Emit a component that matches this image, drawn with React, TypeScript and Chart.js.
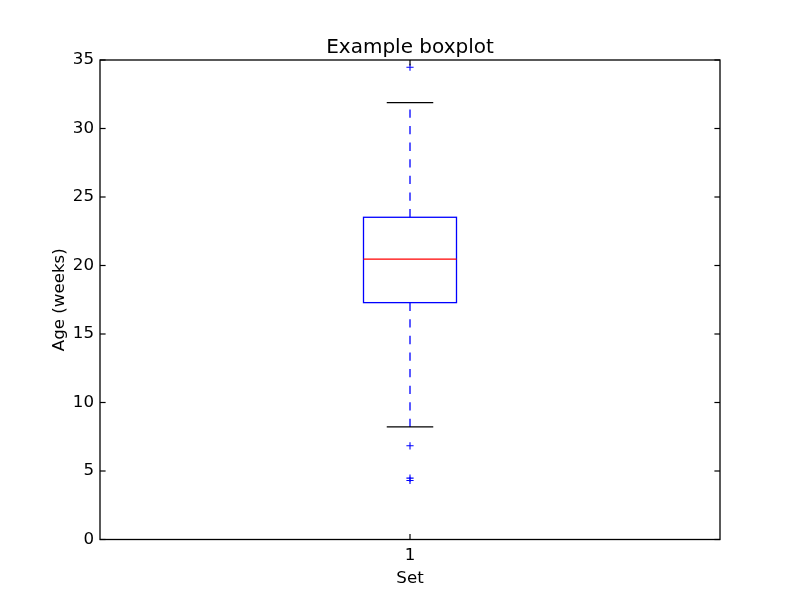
import React, { useEffect, useRef } from 'react';
import { Chart, registerables } from 'chart.js';

Chart.register(...registerables);

// ---- Data ----
const categories = ['1'];
const lowerWhisker = [8.22];
const q1Values = [17.29];
const medianValues = [20.46];
const q3Values = [23.52];
const upperWhisker = [31.89];
const outlierValues = [[34.47, 6.84, 4.48, 4.31]];
const yTickValues = [0, 5, 10, 15, 20, 25, 30, 35];

const titleText = 'Example boxplot';
const xLabel = 'Set';
const yLabel = 'Age (weeks)';

// ---- Styles ----
const BOX_WIDTH = 0.15;
const FONT = { family: 'DejaVu Sans', size: 16.67, weight: 'normal' as const, lineHeight: 1.2 };
const TITLE_FONT_PX = 20;
const BLUE = '#0000ff';
const RED = '#ff0000';
const BLACK = '#000000';
const TICK_LEN = 5.6;

const boxPlugin = {
  id: 'boxDraw',
  beforeDatasetsDraw(chart: any) {
    const { ctx, scales } = chart;
    const x = scales.x;
    const y = scales.y;
    const line = (x1: number, y1: number, x2: number, y2: number) => {
      ctx.beginPath();
      ctx.moveTo(x1, y1);
      ctx.lineTo(x2, y2);
      ctx.stroke();
    };
    ctx.save();
    categories.forEach((_c, i) => {
      const pos = i + 1;
      const xl = x.getPixelForValue(pos - BOX_WIDTH / 2);
      const xr = x.getPixelForValue(pos + BOX_WIDTH / 2);
      const xc = x.getPixelForValue(pos);
      const cl = x.getPixelForValue(pos - BOX_WIDTH / 4);
      const cr = x.getPixelForValue(pos + BOX_WIDTH / 4);
      const yq1 = y.getPixelForValue(q1Values[i]);
      const yq3 = y.getPixelForValue(q3Values[i]);
      const ymed = y.getPixelForValue(medianValues[i]);
      const ylo = y.getPixelForValue(lowerWhisker[i]);
      const yhi = y.getPixelForValue(upperWhisker[i]);

      // whiskers
      ctx.strokeStyle = BLUE;
      ctx.lineWidth = 1.3;
      ctx.setLineDash([8.3, 8.3]);
      line(xc, yq3, xc, yhi);
      line(xc, yq1, xc, ylo);
      ctx.setLineDash([]);

      // caps
      ctx.strokeStyle = BLACK;
      ctx.lineWidth = 1.3;
      line(cl, yhi, cr, yhi);
      line(cl, ylo, cr, ylo);

      // box
      ctx.strokeStyle = BLUE;
      ctx.lineWidth = 1.3;
      ctx.strokeRect(xl, yq3, xr - xl, yq1 - yq3);

      // median
      ctx.strokeStyle = RED;
      line(xl, ymed, xr, ymed);
    });
    ctx.restore();
  },
  afterDraw(chart: any) {
    const { ctx, chartArea, scales } = chart;
    const { left, right, top, bottom } = chartArea;
    const line = (x1: number, y1: number, x2: number, y2: number) => {
      ctx.beginPath();
      ctx.moveTo(x1, y1);
      ctx.lineTo(x2, y2);
      ctx.stroke();
    };
    ctx.save();
    ctx.strokeStyle = BLACK;
    ctx.lineWidth = 1.2;
    // inside ticks
    scales.y.ticks.forEach((_t: any, idx: number) => {
      const py = scales.y.getPixelForTick(idx);
      line(left, py, left + TICK_LEN, py);
      line(right, py, right - TICK_LEN, py);
    });
    scales.x.ticks.forEach((_t: any, idx: number) => {
      const px = scales.x.getPixelForTick(idx);
      line(px, bottom, px, bottom - TICK_LEN);
      line(px, top, px, top + TICK_LEN);
    });
    // frame
    ctx.lineWidth = 1.3;
    ctx.strokeRect(left, top, right - left, bottom - top);

    // title centred over the plot area
    ctx.fillStyle = BLACK;
    ctx.font = `normal ${TITLE_FONT_PX}px "DejaVu Sans"`;
    ctx.textAlign = 'center';
    ctx.textBaseline = 'alphabetic';
    ctx.fillText(titleText, (left + right) / 2, top - 7);
    ctx.restore();
  },
};

export default function App() {
  const canvasRef = useRef<HTMLCanvasElement | null>(null);

  useEffect(() => {
    if (!canvasRef.current) return;
    const outlierPoints = outlierValues.flatMap((vals, i) =>
      vals.map((v) => ({ x: i + 1, y: v }))
    );
    const chart = new Chart(canvasRef.current, {
      type: 'scatter',
      data: {
        datasets: [
          {
            label: 'outliers',
            data: outlierPoints,
            pointStyle: 'cross',
            radius: 3.6,
            borderColor: BLUE,
            backgroundColor: 'rgba(0,0,0,0)',
            borderWidth: 1.1,
          },
        ],
      },
      options: {
        animation: false,
        responsive: false,
        maintainAspectRatio: false,
        devicePixelRatio: 1,
        layout: { padding: { top: 60, left: 0, right: 80, bottom: 0 } },
        plugins: {
          legend: { display: false },
          tooltip: { enabled: false },
          title: { display: false },
        },
        scales: {
          x: {
            type: 'linear',
            min: 0.5,
            max: 1.5,
            afterBuildTicks: (s: any) => {
              s.ticks = categories.map((_c, i) => ({ value: i + 1 }));
            },
            ticks: {
              callback: (_v: any, i: number) => categories[i],
              color: BLACK,
              font: FONT,
              padding: 6,
              autoSkip: false,
              maxRotation: 0,
            },
            grid: { display: false, drawTicks: false },
            border: { display: false },
            title: {
              display: true,
              text: xLabel,
              color: BLACK,
              font: FONT,
              padding: { top: 0, bottom: 11.8 },
            },
            afterFit: (s: any) => {
              s.height = 60.5;
            },
          },
          y: {
            type: 'linear',
            min: 0,
            max: 35,
            afterBuildTicks: (s: any) => {
              s.ticks = yTickValues.map((v) => ({ value: v }));
            },
            ticks: {
              callback: (v: any) => String(v),
              color: BLACK,
              font: FONT,
              padding: 6,
            },
            grid: { display: false, drawTicks: false },
            border: { display: false },
            title: {
              display: true,
              text: yLabel,
              color: BLACK,
              font: FONT,
              padding: { top: 49.8, bottom: 0 },
            },
            afterFit: (s: any) => {
              s.width = 100;
            },
          },
        },
      },
      plugins: [boxPlugin],
    } as any);
    return () => chart.destroy();
  }, []);

  return (
    <div style={{ position: 'absolute', left: 0, top: 0, width: 800, height: 600, background: '#fff' }}>
      <canvas ref={canvasRef} width={800} height={600} style={{ display: 'block' }} />
    </div>
  );
}
